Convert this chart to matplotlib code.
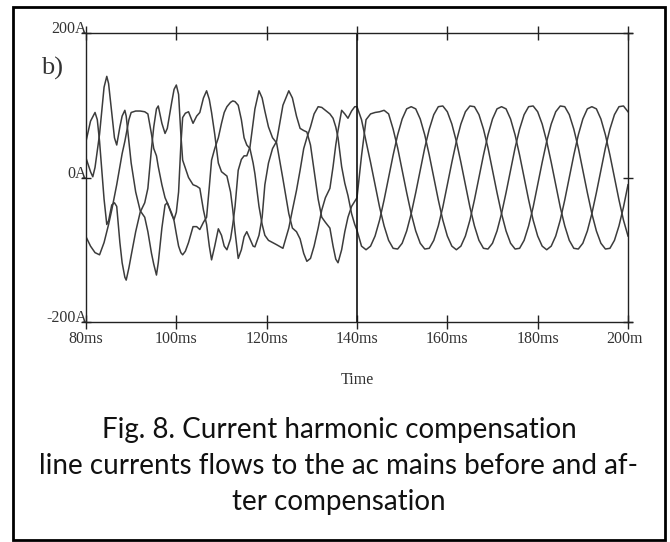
import matplotlib
matplotlib.use('Agg')
import matplotlib.pyplot as plt
from matplotlib.patches import Rectangle
from matplotlib.transforms import Bbox, TransformedBbox, offset_copy

# Corrientes de linea (ms, A)
# Antes de la compensacion (80-140 ms), fase a
t_a_antes = [80, 81, 82, 83, 84, 84.6, 85, 85.7, 86.8, 87.5, 88, 88.6, 88.9, 89.5, 90, 91, 92, 93,
             93.7, 94.5, 95, 95.6, 96, 96.8, 97.5, 98, 99, 99.5, 100, 100.5, 101, 101.4, 102, 102.7,
             103.7, 104.5, 105.2, 106, 106.7, 107.3, 107.8, 108.5, 109.3, 110, 110.6, 111.2, 112,
             112.5, 113, 113.7, 114.4, 115, 115.6, 116.3, 117, 117.4, 118.3, 119, 119.6, 120.4,
             121.3, 122.2, 123.6, 124.9, 125.7, 126.6, 127.4, 128.2, 128.9, 129.7, 130.5, 131.4,
             132.2, 133, 134, 134.7, 135.3, 135.8, 136.6, 137.3, 138, 138.8, 139.5]
i_a_antes = [-82, -95, -104, -107, -90, -75, -65, -45, -10, 15, 33, 50, 60, 80, 90, 92, 92, 91,
             88, 60, 40, 30, 15, -10, -28, -35, -50, -60, -78, -95, -104, -107, -102, -90,
             -68, -68, -72, -62, -55, -13, 24, 40, 55, 75, 90, 98, 104,
             106, 105, 100, 80, 55, 45, 40, 20, 5, -40, -65, -80, -87,
             -90, -93, -98, -70, -45, -18, 10, 40, 55, 70, 88, 98,
             97, 93, 88, 82, 70, 55, 15, -8, -25, -50, -65]

# fase b
t_b_antes = [80, 81, 82, 82.5, 83, 83.5, 84, 84.6, 85, 85.7, 86.3, 86.8, 87.5, 88, 88.6, 88.9, 89.5,
             90, 91, 92, 93, 93.7, 94.5, 95, 95.6, 96, 96.8, 97.5, 98, 99, 99.5, 100, 100.5, 101,
             101.4, 102, 102.7, 103.7, 104.5, 105.2, 106, 106.7, 107.3, 107.8, 108.5, 109.3, 110,
             110.6, 111.2, 112, 112.5, 113, 113.7, 114.4, 115, 115.6, 116.3, 117, 117.4, 118.3,
             119, 119.6, 120.4, 121.3, 122.2, 123.6, 124.9, 125.7, 126.6, 127.4, 128.2, 128.9,
             129.7, 130.5, 131.4, 132.2, 133, 134, 134.7, 135.3, 135.8, 136.6, 137.3, 138, 138.8,
             139.5]
i_b_antes = [50, 78, 90, 80, 50, 10, -30, -65, -60, -38, -35, -40, -90, -118, -138, -142, -125,
             -108, -75, -48, -35, -15, 40, 70, 95, 99, 75, 61, 68, 105, 122, 128, 115, 60,
             24, 13, 0, -10, -12, -15, -45, -65, -95, -114, -95, -71, -80,
             -95, -100, -85, -65, -40, 10, 25, 30, 30, 42, 75, 95, 120,
             110, 92, 70, 55, 48, -2, -50, -70, -75, -85, -105, -116,
             -112, -95, -70, -45, -28, -15, 15, 45, 65, 93, 88, 82, 92,
             98]

# fase c
t_c_antes = [80, 81, 81.5, 82, 83, 84, 84.6, 85, 85.7, 86.3, 86.8, 87.5, 88, 88.6, 88.9, 89.5, 90,
             91, 92, 93, 93.7, 94.5, 95, 95.6, 96, 96.8, 97.5, 98, 99, 99.5, 100, 100.5, 101,
             101.4, 102, 102.7, 103.7, 104.5, 105.2, 106, 106.7, 107.3, 107.8, 108.5, 109.3, 110,
             110.6, 111.2, 112, 112.5, 113, 113.7, 114.4, 115, 115.6, 116.3, 117, 117.4, 118.3,
             119, 119.6, 120.4, 121.3, 122.2, 123.6, 124.9, 125.7, 126.6, 127.4, 128.2, 128.9,
             129.7, 130.5, 131.4, 132.2, 133, 134, 134.7, 135.3, 135.8, 136.6, 137.3, 138, 138.8,
             139.5]
i_c_antes = [27, 8, 1, 14, 60, 125, 140, 130, 90, 55, 45, 70, 85, 93, 85, 50, 20,
             -20, -46, -55, -75, -105, -120, -135, -118, -70, -38, -35, -52, -58, -48, -20, 45,
             83, 89, 91, 75, 85, 90, 110, 120, 108, 90, 60, 20, 8,
             5, 2, -20, -45, -75, -112, -100, -82, -75, -85, -95, -96, -80,
             -55, -10, 20, 40, 50, 100, 120, 110, 85, 68, 65, 63,
             45, 10, -30, -55, -62, -70, -95, -113, -118, -100, -75, -55, -40,
             -33]

# Despues de la compensacion (140-200 ms, cada 1 ms)
t_despues = list(range(140, 201))
i_a_despues = [-73, -95, -100, -95, -81, -59, -31, 0, 31, 59, 81, 95, 98, 95, 81, 59, 31, 0, -31, -59,
               -81, -95, -100, -95, -81, -59, -31, 0, 31, 59, 81, 95, 98, 95, 81, 59, 31, 0, -31, -59,
               -81, -95, -100, -95, -81, -59, -31, 0, 31, 59, 81, 95, 98, 95, 81, 59, 31, 0, -31, -59,
               -81]
i_b_despues = [98, 80, 50, 21, -10, -41, -67, -87, -98, -99, -91, -74, -50, -21, 10, 41, 67, 87, 98, 99,
               91, 74, 50, 21, -10, -41, -67, -87, -98, -99, -91, -74, -50, -21, 10, 41, 67, 87, 98, 99,
               91, 74, 50, 21, -10, -41, -67, -87, -98, -99, -91, -74, -50, -21, 10, 41, 67, 87, 98, 99,
               91]
i_c_despues = [-28, 30, 80, 88, 90, 91, 93, 88, 67, 41, 10, -21, -50, -74, -91, -99, -98, -87, -67, -41,
               -10, 21, 50, 74, 91, 99, 98, 87, 67, 41, 10, -21, -50, -74, -91, -99, -98, -87, -67, -41,
               -10, 21, 50, 74, 91, 99, 98, 87, 67, 41, 10, -21, -50, -74, -91, -99, -98, -87, -67, -41,
               -10]

x_ticks = [80, 100, 120, 140, 160, 180, 200]
x_labels = ['80ms', '100ms', '120ms', '140ms', '160ms', '180ms', '200ms']
y_ticks = [200, 0, -200]
y_labels = ['200A', '0A', '-200A']

caption = ['Fig. 8. Current harmonic compensation',
           'line currents flows to the ac mains before and af-',
           'ter compensation']

W, H = 670, 542
fig = plt.figure(figsize=(W / 100, H / 100), dpi=100)
ax = fig.add_axes([86 / W, 1 - 322 / H, 542 / W, 289 / H])

color_curva = '#3c3c3c'
color_eje = '#222222'
for t_ant, i_ant, i_des in [(t_a_antes, i_a_antes, i_a_despues),
                            (t_b_antes, i_b_antes, i_b_despues),
                            (t_c_antes, i_c_antes, i_c_despues)]:
    ax.plot(t_ant + t_despues, i_ant + i_des, color=color_curva, lw=1.1)

ax.set_xlim(80, 200)
ax.set_ylim(-200, 200)

# Linea del instante de compensacion
ax.axvline(140, color='#111111', lw=1.2)

for s in ax.spines.values():
    s.set_color(color_eje)
    s.set_linewidth(1.0)

# Los ejes horizontales se alargan un poco mas alla del borde derecho
for y in [200, -200]:
    ax.plot([200, 200.9], [y, y], color=color_eje, lw=1.0, clip_on=False)

ax.set_xticks(x_ticks)
ax.set_xticklabels([])
ax.tick_params(axis='x', direction='inout', length=10, width=1.0, color=color_eje, top=True)
ax.set_yticks(y_ticks)
ax.set_yticklabels([])
ax.tick_params(axis='y', direction='inout', length=7, width=1.0, color=color_eje, right=True)

fuente = dict(family='Liberation Serif', fontsize=11.5, color='#333333')

# Etiquetas del eje x (la de 200ms queda cortada como en la figura)
recorte = TransformedBbox(Bbox([[0, 0], [643 / W, 1]]), fig.transFigure)
trans_x = offset_copy(ax.get_xaxis_transform(), fig=fig, x=0, y=-9, units='dots')
for xv, lab in zip(x_ticks, x_labels):
    txt = ax.text(xv, 0, lab, transform=trans_x, ha='center', va='top', **fuente)
    txt.set_clip_box(recorte)
    txt.set_clip_on(True)

trans_y = offset_copy(ax.get_yaxis_transform(), fig=fig, x=1, y=4, units='dots')
for yv, lab in zip(y_ticks, y_labels):
    ax.text(0, yv, lab, transform=trans_y, ha='right', va='center', **fuente)

fig.text(52 / W, 1 - 68 / H, 'b)', family='Liberation Serif', fontsize=19,
         color='#333333', ha='center', va='center')
fig.text(357 / W, 1 - 380 / H, 'Time', ha='center', va='center', **fuente)

for k, linea in enumerate(caption):
    fig.text(339 / W, 1 - (430 + 36 * k) / H, linea, family='Lato', fontsize=20,
             color='#111111', ha='center', va='center')

# Marco exterior
fig.patches.append(Rectangle((13 / W, 2 / H), 652 / W, 533 / H, transform=fig.transFigure,
                             fill=False, ec='black', lw=2))

fig.savefig('out.png', dpi=100)
